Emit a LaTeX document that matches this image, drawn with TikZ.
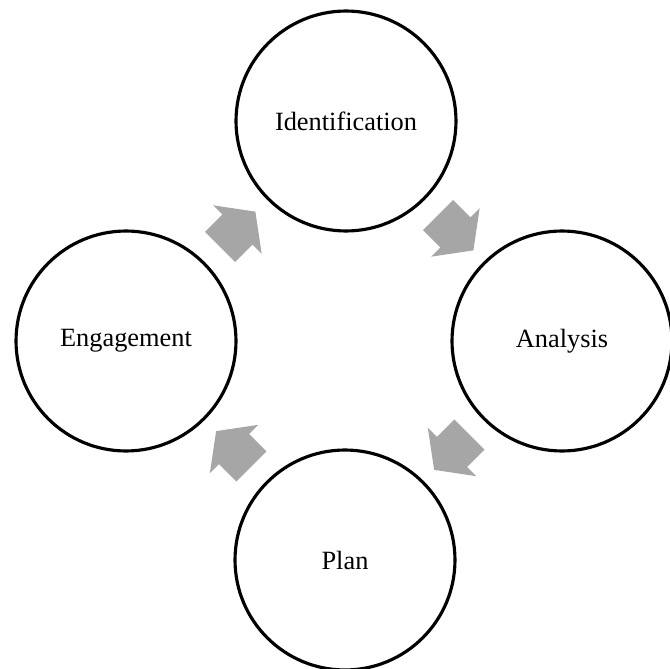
\documentclass[tikz,border=0pt]{standalone}
\usepackage{fontspec}
\setmainfont{Liberation Serif}
\usetikzlibrary{shapes.arrows,calc}
\begin{document}
\begin{tikzpicture}[x=0.02cm,y=-0.02cm,line join=miter]
		\tikzset{stage/.style={circle,draw,line width=1.8pt,minimum size=4.4cm,inner sep=0pt,font=\fontsize{15}{18}\selectfont},
			cyc/.style={single arrow,fill=black!35,draw=none,inner xsep=0pt,inner ysep=0.42cm,minimum height=1cm,minimum width=1.36cm,single arrow head extend=0.26cm,single arrow tip angle=107,xshift=-0.11cm}}
		\useasboundingbox (0,0) rectangle (670,669);
		\node[stage] (ide) at (346,121) {Identification};
		\node[stage] (ana) at (562,341) {Analysis};
		\node[stage] (pla) at (345,560) {Plan};
		\node[stage] (eng) at (126,341) {Engagement};
		\node[rotate=45,cyc] (a1) at ($(eng)!0.5!(ide)$) {};
		\node[rotate=-45,cyc] (a2) at ($(ide)!0.5!(ana)$) {};
		\node[rotate=-135,cyc] (a3) at ($(ana)!0.5!(pla)$) {};
		\node[rotate=135,cyc] (a4) at ($(pla)!0.5!(eng)$) {};
\end{tikzpicture}
\end{document}
